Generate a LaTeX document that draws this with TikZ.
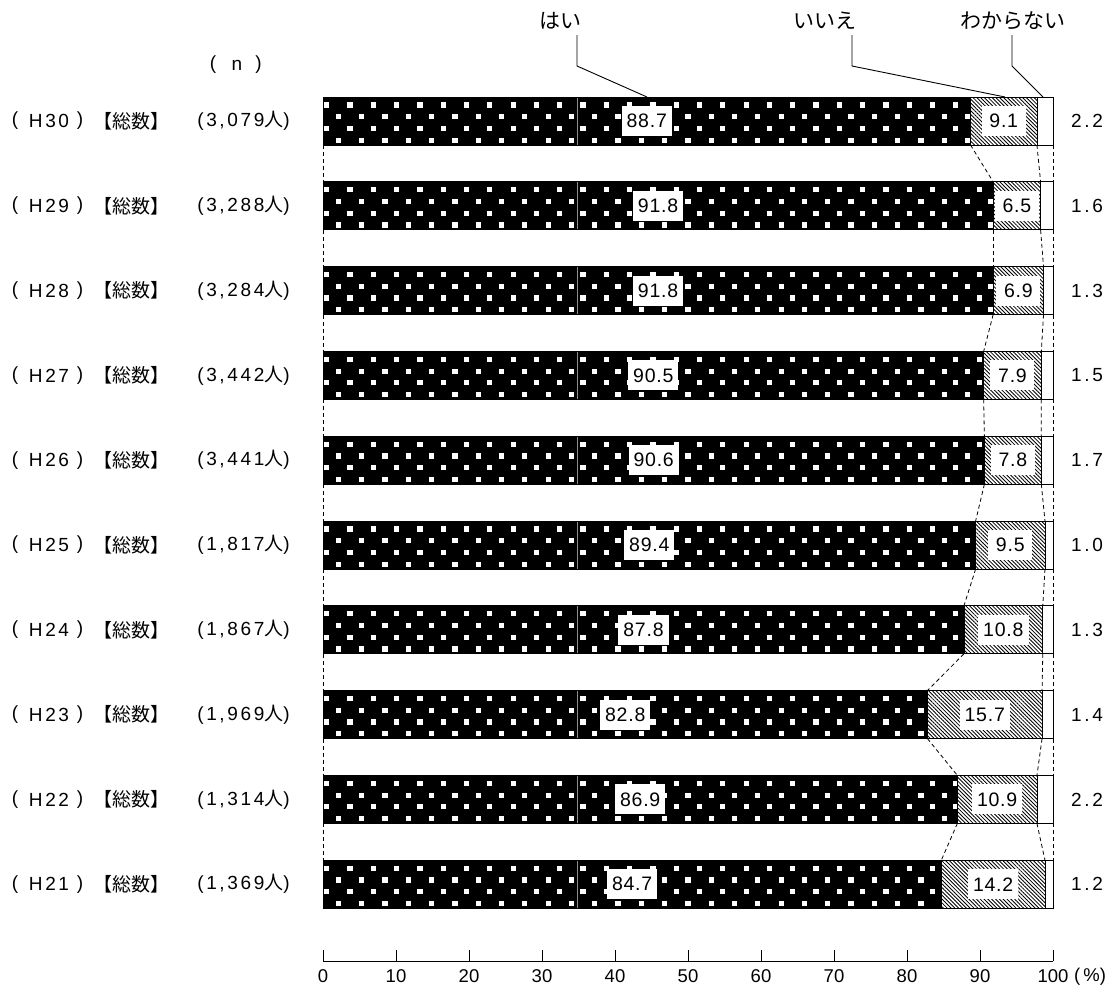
\documentclass[tikz,border=0pt]{standalone}
\usepackage{fontspec}
\setmainfont{Liberation Sans}
\newfontfamily\jp{Noto Sans CJK JP}
\usetikzlibrary{patterns.meta}
\tikzset{
  haibar/.style={fill=black},
  barline/.style={draw=black, line width=0.8pt},
  iiebar/.style={line width=0.8pt, pattern={Lines[angle=-45,distance=2.7pt,line width=0.85pt]}},
  wakbar/.style={fill=white},
  vallab/.style={fill=white, inner xsep=5pt, inner ysep=0pt, minimum height=30pt, minimum width=44pt, font=\fontsize{19.5}{19.5}\selectfont\addfontfeatures{LetterSpace=4}},
  sidelab/.style={inner sep=0pt, font=\fontsize{19}{19}\selectfont\addfontfeatures{LetterSpace=14}},
  leglab/.style={inner sep=0pt, font=\fontsize{21}{21}\selectfont\jp},
  axlab/.style={inner sep=0pt, font=\fontsize{18.5}{18.5}\selectfont},
  conn/.style={dash pattern=on 4pt off 3pt, line width=0.8pt},
  leader/.style={line width=0.9pt},
  gridline/.style={draw=black!45, line width=0.5pt}
}
\begin{document}
\begin{tikzpicture}[x=1pt,y=-1pt]
\useasboundingbox (0,0) rectangle (1106,988);
% header (n)
\node[sidelab] (np1) at (213,65) {(};
\node[sidelab] (nn) at (237,65) {n};
\node[sidelab] (np2) at (258.5,65) {)};
% bars
\foreach \i/\h/\ie/\w/\yr/\n in {0/88.7/9.1/2.2/30/{3,079},1/91.8/6.5/1.6/29/{3,288},2/91.8/6.9/1.3/28/{3,284},3/90.5/7.9/1.5/27/{3,442},4/90.6/7.8/1.7/26/{3,441},5/89.4/9.5/1.0/25/{1,817},6/87.8/10.8/1.3/24/{1,867},7/82.8/15.7/1.4/23/{1,969},8/86.9/10.9/2.2/22/{1,314},9/84.7/14.2/1.2/21/{1,369}}{
  \pgfmathsetmacro\t{97+84.8*\i}
  \pgfmathsetmacro\b{\t+48}
  \pgfmathsetmacro\xa{323+7.3*\h}
  \pgfmathsetmacro\xb{323+7.3*(\h+\ie)}
  \pgfmathsetmacro\ym{\t+24}
  \coordinate (t\i-0) at (323,\t);
  \coordinate (t\i-1) at (\xa,\t);
  \coordinate (t\i-2) at (\xb,\t);
  \coordinate (t\i-3) at (1053,\t);
  \coordinate (b\i-0) at (323,\b);
  \coordinate (b\i-1) at (\xa,\b);
  \coordinate (b\i-2) at (\xb,\b);
  \coordinate (b\i-3) at (1053,\b);
  \fill[haibar] (t\i-0) rectangle (b\i-1);
  \begin{scope}
    \clip (t\i-0) rectangle (b\i-1);
    \foreach \r in {0,1,2,3}{
      \foreach \c in {0,...,28}{
        \fill[white] ({326.7+11.7*mod(\r,2)+23.3*\c-2.6},{\t+8+11.7*\r-2.6}) rectangle ++(5.2,5.2);
      }
    }
  \end{scope}
  \draw[gridline] (577,\t) -- (577,\b);
  \path[iiebar] (t\i-1) rectangle (b\i-2);
  \path[wakbar] (t\i-2) rectangle (b\i-3);
  \node[vallab] (h\i) at ({(323+\xa)/2},\ym) {\h};
  \node[vallab] (e\i) at ({(\xa+\xb)/2},\ym) {\ie};
  \draw[barline] (t\i-0) rectangle (b\i-1);
  \draw[barline] (t\i-1) rectangle (b\i-2);
  \draw[barline] (t\i-2) rectangle (b\i-3);
  \node[sidelab] (w\i) at (1087,\ym) {\w};
  \node[sidelab] (pa\i) at (15,\ym) {(};
  \node[sidelab] (yr\i) at (49,\ym) {H\yr};
  \node[sidelab] (pb\i) at (80,\ym) {)};
  \node[sidelab] (sb\i) at (131,\ym) {\jp【総数】};
  \node[sidelab,anchor=east] (nn\i) at (290,\ym) {(\n{\jp 人})};
}
% dashed connectors
\foreach \i in {0,...,8}{
  \pgfmathtruncatemacro\j{\i+1}
  \foreach \k in {0,1,2,3}{
    \draw[conn] (b\i-\k) -- (t\j-\k);
  }
}
% legend
\node[leglab] (lh) at (560,21) {はい};
\node[leglab] (le) at (825,21) {いいえ};
\node[leglab] (lw) at (1013,21) {わからない};
\coordinate (lhe) at (647,97);
\coordinate (lee) at (1005,97);
\coordinate (lwe) at (1043,97);
\draw[leader] (577,35) -- (577,66) -- (lhe);
\draw[leader] (852,35) -- (852,66) -- (lee);
\draw[leader] (1012,35) -- (1012,66) -- (lwe);
% axis
\coordinate (ax0) at (323,961);
\coordinate (ax1) at (1053,961);
\draw[line width=0.9pt] (ax0) -- (ax1);
\foreach \k in {0,...,10}{
  \pgfmathsetmacro\xx{323+73*\k}
  \pgfmathtruncatemacro\lv{10*\k}
  \draw[line width=0.9pt] (\xx,950) -- (\xx,961);
  \node[axlab] (tl\k) at (\xx,976.5) {\lv};
}
\node[axlab] (pct) at (1090,976.5) {(\,\%)};
\end{tikzpicture}
\end{document}
